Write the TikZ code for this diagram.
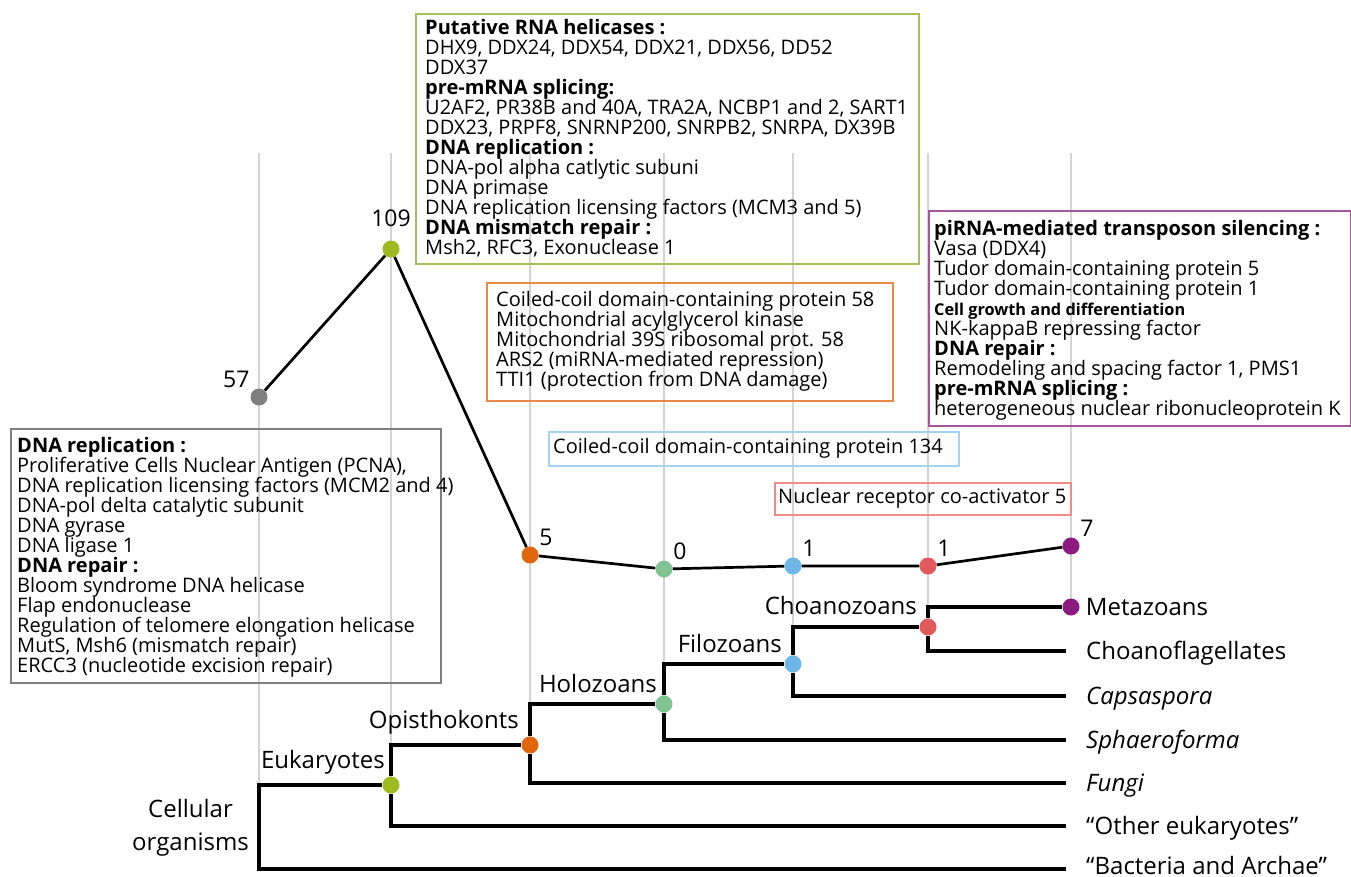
\documentclass[tikz,border=0pt]{standalone}
\usepackage{fontspec}
\setmainfont{Open Sans}
\usepackage{tikz}
\usetikzlibrary{backgrounds,calc,positioning}

\definecolor{grau}{HTML}{7F7F7F}
\definecolor{gelbgruen}{HTML}{9DBB1F}
\definecolor{orangeP}{HTML}{E0670C}
\definecolor{gruen}{HTML}{80C493}
\definecolor{blau}{HTML}{6DB6E6}
\definecolor{rot}{HTML}{E25A5C}
\definecolor{lila}{HTML}{8C1A80}
\definecolor{rGruen}{HTML}{A2C257}
\definecolor{rOrange}{HTML}{EB8A47}
\definecolor{rBlau}{HTML}{A3D2F2}
\definecolor{rRot}{HTML}{EF8C88}
\definecolor{rLila}{HTML}{A4559C}

%Schrift in den Kaesten, Zeilenabstand fest
\newcommand{\listfont}[1]{\fontsize{20}{#1}\selectfont\lineskiplimit-50pt\relax}

\tikzset{
  punkt/.style={circle,fill=#1,inner sep=0pt,minimum size=17pt},
  ast/.style={line width=3.5pt},
  trend/.style={line width=2.7pt},
  gitter/.style={draw=black!17,line width=1.5pt},
  zahl/.style={font=\fontsize{23}{24}\selectfont,inner sep=1pt},
  taxon/.style={font=\fontsize{24}{33}\selectfont,inner sep=0pt},
  blatt/.style={taxon,anchor=west,inner xsep=20pt,inner ysep=0pt,text height=16pt,text depth=0pt},
  kasten/.style={draw=#1,line width=1.7pt,anchor=north west,inner sep=0pt},
  liste/.style={anchor=north west,align=left,inner sep=0pt,font=\listfont{20}}
}

\begin{document}
\begin{tikzpicture}[x=1pt,y=-1pt]
\useasboundingbox (0,0) rectangle (1351,876);
\coordinate (oben) at (0,153);
\coordinate (wurzel) at (259,828);
%Anzahl der Gene pro Knoten (obere Kurve)
\node[punkt=grau,label={[zahl,name=z57,label distance=3pt]above left:57}] (n57) at (259,397) {};
\node[punkt=gelbgruen,label={[zahl,name=z109,label distance=12pt]above:109}] (n109) at (391,249) {};
\node[punkt=orangeP,label={[zahl,name=z5,label distance=3pt]above right:5}] (n5) at (530,555) {};
\node[punkt=gruen,label={[zahl,name=z0,label distance=3pt]above right:0}] (n0) at (664,569) {};
\node[punkt=blau,label={[zahl,name=z1a,label distance=3pt]above right:1}] (n1a) at (793,566) {};
\node[punkt=rot,label={[zahl,name=z1b,label distance=3pt]above right:1}] (n1b) at (928,566) {};
\node[punkt=lila,label={[zahl,name=z7,label distance=3pt]above right:7}] (n7) at (1071,546) {};
%Baum
\node[punkt=gelbgruen] (eu) at (391,785) {};
\node[punkt=orangeP] (op) at (530,745) {};
\node[punkt=gruen] (ho) at (664,704) {};
\node[punkt=blau] (fi) at (793,664) {};
\node[punkt=rot] (ch) at (928,627) {};
\node[punkt=lila,label={[taxon,name=lMe,label distance=6pt]right:Metazoans}] (me) at (1071,607) {};
\node[taxon,anchor=base east] (lEu) at ($(eu)+(-6,-17)$) {Eukaryotes};
\node[taxon,anchor=base east] (lOp) at ($(op)+(-11,-17)$) {Opisthokonts};
\node[taxon,anchor=base east] (lHo) at ($(ho)+(-7,-12)$) {Holozoans};
\node[taxon,anchor=base east] (lFi) at ($(fi)+(-11,-12)$) {Filozoans};
\node[taxon,anchor=base east] (lCh) at ($(ch)+(-11,-13)$) {Choanozoans};
\node[taxon,align=center,anchor=east] (lZell) at ($(wurzel)+(-10,0)$) {Cellular\\organisms};
\node[blatt] (lChf) at (1066,651) {Choanoflagellates};
\node[blatt] (lCap) at (1066,696) {\itshape Capsaspora};
\node[blatt] (lSph) at (1066,740) {\itshape Sphaeroforma};
\node[blatt] (lFun) at (1066,783) {\itshape Fungi};
\node[blatt] (lAnd) at (1066,826) {“Other eukaryotes”};
\node[blatt,text height=10pt] (lBak) at (1066,869) {“Bacteria and Archae”};
\begin{scope}[on background layer]
\foreach \z/\t in {n57/wurzel,n109/eu,n5/op,n0/ho,n1a/fi,n1b/ch,n7/me}
  \draw[gitter] (\z |- oben) -- (\t.center);
\draw[trend] (n57) -- (n109) -- (n5) -- (n0) -- (n1a) -- (n1b) -- (n7);
\draw[ast] (wurzel) |- (eu) (wurzel) |- (lBak);
\draw[ast] (eu) |- (op) (eu) |- (lAnd);
\draw[ast] (op) |- (ho) (op) |- (lFun);
\draw[ast] (ho) |- (fi) (ho) |- (lSph);
\draw[ast] (fi) |- (ch) (fi) |- (lCap);
\draw[ast] (ch) |- (me) (ch) |- (lChf);
\end{scope}
%Kaesten mit den Genen
\node[kasten=rGruen,minimum width=503pt,minimum height=250pt] (kGruen) at (415,13) {};
\node[liste] (tGruen) at (425,19) {%
\textbf{Putative RNA helicases :}\\
DHX9, DDX24, DDX54, DDX21, DDX56, DD52\\
DDX37\\
\textbf{pre-mRNA splicing:}\\
U2AF2, PR38B and 40A, TRA2A, NCBP1 and 2, SART1\\
DDX23, PRPF8, SNRNP200, SNRPB2, SNRPA, DX39B\\
\textbf{DNA replication :}\\
DNA-pol alpha catlytic subuni\\
DNA primase\\
DNA replication licensing factors (MCM3 and 5)\\
\textbf{DNA mismatch repair :}\\
Msh2, RFC3, Exonuclease 1};
\node[kasten=rOrange,minimum width=406pt,minimum height=118pt] (kOrange) at (486,282) {};
\node[liste] (tOrange) at (496,291) {%
Coiled-coil domain-containing protein 58\\
Mitochondrial acylglycerol kinase\\
Mitochondrial 39S ribosomal prot. 58\\
ARS2 (miRNA-mediated repression)\\
TTI1 (protection from DNA damage)};
\node[kasten=rBlau,minimum width=410pt,minimum height=34pt] (kBlau) at (548,431) {};
\node[liste] (tBlau) at (553,438) {Coiled-coil domain-containing protein 134};
\node[kasten=rRot,minimum width=296pt,minimum height=32pt] (kRot) at (774,482) {};
\node[liste] (tRot) at (778,488) {Nuclear receptor co-activator 5};
\node[kasten=rLila,minimum width=422pt,minimum height=215pt] (kLila) at (928,210) {};
\node[liste] (tLila) at (934,220) {%
\textbf{piRNA-mediated transposon silencing :}\\
Vasa (DDX4)\\
Tudor domain-containing protein 5\\
Tudor domain-containing protein 1\\
{\fontsize{16.3}{20}\selectfont\textbf{Cell growth and differentiation}}\\
NK-kappaB repressing factor\\
\textbf{DNA repair :}\\
Remodeling and spacing factor 1, PMS1\\
\textbf{pre-mRNA splicing :}\\
heterogeneous nuclear ribonucleoprotein K};
\node[kasten=grau,minimum width=430pt,minimum height=254pt] (kGrau) at (10,428) {};
\node[liste] (tGrau) at (17,437) {%
\textbf{DNA replication :}\\
Proliferative Cells Nuclear Antigen (PCNA),\\
DNA replication licensing factors (MCM2 and 4)\\
DNA-pol delta catalytic subunit\\
DNA gyrase\\
DNA ligase 1\\
\textbf{DNA repair :}\\
Bloom syndrome DNA helicase\\
Flap endonuclease\\
Regulation of telomere elongation helicase\\
MutS, Msh6 (mismatch repair)\\
ERCC3 (nucleotide excision repair)};
\end{tikzpicture}
\end{document}
